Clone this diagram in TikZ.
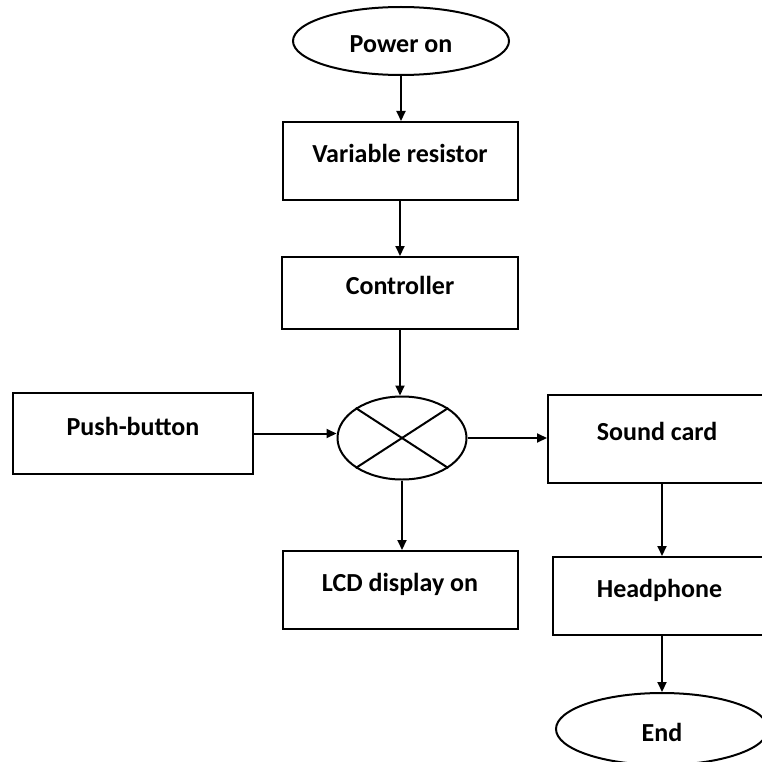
\documentclass[tikz,border=0pt]{standalone}
\usepackage{fontspec}
\setmainfont{Carlito}
\usetikzlibrary{shapes.geometric,arrows.meta}

\begin{document}
\begin{tikzpicture}[x=1pt, y=-1pt,
  every node/.style={font=\fontsize{26}{30}\selectfont\bfseries, inner sep=0pt},
  block/.style={draw, rectangle, line width=2pt, text height=16pt, text depth=13pt},
  terminal/.style={draw, ellipse, line width=2pt, text height=24pt, text depth=0pt},
  mixer/.style={draw, ellipse, line width=2pt, minimum width=129pt, minimum height=83pt},
  flow/.style={line width=2pt, -{Triangle[length=10pt, width=9pt]}}]
\useasboundingbox (0,0) rectangle (761,762);
% column in the middle
\node[terminal, minimum width=216pt, minimum height=68pt] (power) at (401,41) {Power on};
\node[block, minimum width=235pt, minimum height=78pt] (resistor) at (400,161) {Variable resistor};
\node[block, minimum width=236pt, minimum height=72pt] (ctrl) at (400,293) {Controller};
\node[mixer] (mix) at (402,438) {};
\node[block, minimum width=235pt, minimum height=78pt] (lcd) at (400,590) {LCD display on};
% left and right
\node[block, minimum width=240pt, minimum height=81pt] (push) at (133,433.5) {Push-button};
\node[block, minimum width=218pt, minimum height=88pt] (sound) at (657,439) {Sound card};
\node[block, minimum width=213pt, minimum height=78pt] (phone) at (659.5,596) {Headphone};
\node[terminal, minimum width=212pt, minimum height=72pt] (stop) at (662,729) {End};
% cross inside the mixer
\draw[line width=2pt] (mix.north west) -- (mix.south east);
\draw[line width=2pt] (mix.north east) -- (mix.south west);
% connectors
\draw[flow] (power.south) -- (power.south |- resistor.north);
\draw[flow] (resistor.south) -- (resistor.south |- ctrl.north);
\draw[flow] (ctrl.south) -- (ctrl.south |- mix.north);
\draw[flow] (push.east) -- (push.east -| mix.west);
\draw[flow] (mix.east) -- (mix.east -| sound.west);
\draw[flow] (mix.south) -- (mix.south |- lcd.north);
\draw[flow] (stop |- sound.south) -- (stop |- phone.north);
\draw[flow] (stop |- phone.south) -- (stop.north);
\end{tikzpicture}
\end{document}
